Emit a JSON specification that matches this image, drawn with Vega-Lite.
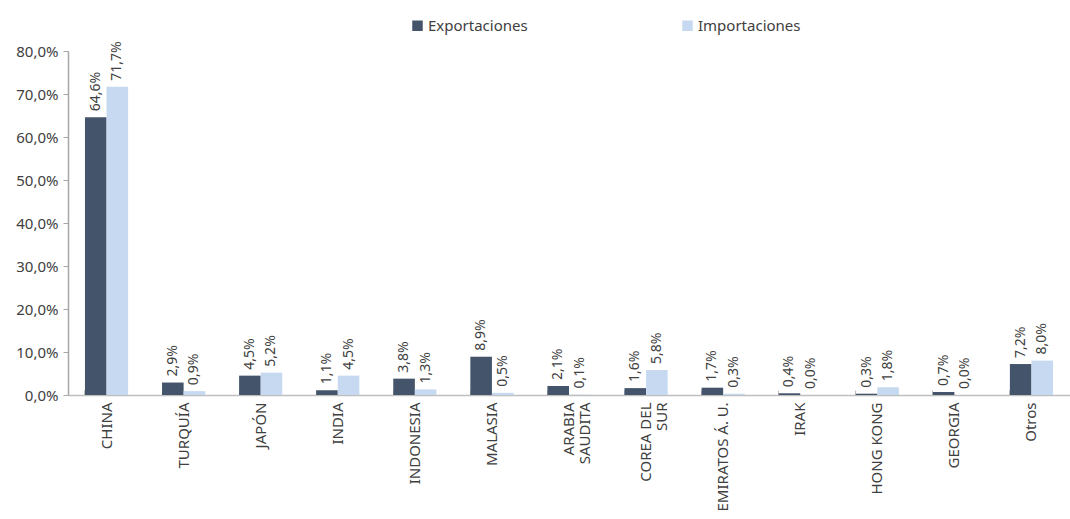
{
  "$schema": "https://vega.github.io/schema/vega-lite/v6.json",
  "width": 1002,
  "height": 344,
  "autosize": {"type": "none"},
  "padding": {"left": 68, "top": 51, "right": 0, "bottom": 124},
  "background": "white",
  "config": {
    "view": {"stroke": null},
    "font": "Noto Sans",
    "axis": {"labelFont": "Noto Sans", "labelColor": "#404040", "labelFontSize": 15}
  },
  "data": {
    "values": [
      {"pais": "CHINA", "serie": "Exportaciones", "valor": 0.646},
      {"pais": "CHINA", "serie": "Importaciones", "valor": 0.717},
      {"pais": "TURQUÍA", "serie": "Exportaciones", "valor": 0.029},
      {"pais": "TURQUÍA", "serie": "Importaciones", "valor": 0.009},
      {"pais": "JAPÓN", "serie": "Exportaciones", "valor": 0.045},
      {"pais": "JAPÓN", "serie": "Importaciones", "valor": 0.052},
      {"pais": "INDIA", "serie": "Exportaciones", "valor": 0.011},
      {"pais": "INDIA", "serie": "Importaciones", "valor": 0.045},
      {"pais": "INDONESIA", "serie": "Exportaciones", "valor": 0.038},
      {"pais": "INDONESIA", "serie": "Importaciones", "valor": 0.013},
      {"pais": "MALASIA", "serie": "Exportaciones", "valor": 0.089},
      {"pais": "MALASIA", "serie": "Importaciones", "valor": 0.005},
      {"pais": "ARABIA|SAUDITA", "serie": "Exportaciones", "valor": 0.021},
      {"pais": "ARABIA|SAUDITA", "serie": "Importaciones", "valor": 0.001},
      {"pais": "COREA DEL|SUR", "serie": "Exportaciones", "valor": 0.016},
      {"pais": "COREA DEL|SUR", "serie": "Importaciones", "valor": 0.058},
      {"pais": "EMIRATOS Á. U.", "serie": "Exportaciones", "valor": 0.017},
      {"pais": "EMIRATOS Á. U.", "serie": "Importaciones", "valor": 0.003},
      {"pais": "IRAK", "serie": "Exportaciones", "valor": 0.004},
      {"pais": "IRAK", "serie": "Importaciones", "valor": 0.0},
      {"pais": "HONG KONG", "serie": "Exportaciones", "valor": 0.003},
      {"pais": "HONG KONG", "serie": "Importaciones", "valor": 0.018},
      {"pais": "GEORGIA", "serie": "Exportaciones", "valor": 0.007},
      {"pais": "GEORGIA", "serie": "Importaciones", "valor": 0.0},
      {"pais": "Otros", "serie": "Exportaciones", "valor": 0.072},
      {"pais": "Otros", "serie": "Importaciones", "valor": 0.08}
    ]
  },
  "encoding": {
    "x": {
      "field": "pais",
      "type": "nominal",
      "sort": null,
      "scale": {"paddingInner": 0.44, "paddingOuter": 0.22},
      "axis": {
        "title": null,
        "labelAngle": -90,
        "labelAlign": "right",
        "labelBaseline": "middle",
        "labelPadding": 12,
        "labelExpr": "split(datum.label, '|')",
        "bandPosition": 0,
        "tickSize": -5,
        "tickColor": "#bfbfbf",
        "domainColor": "#bfbfbf",
        "domainWidth": 1.5,
        "labelLineHeight": 16
      }
    },
    "xOffset": {"field": "serie", "type": "nominal", "scale": {"paddingInner": 0}},
    "y": {
      "field": "valor",
      "type": "quantitative",
      "scale": {"domain": [0, 0.8], "nice": false},
      "axis": {
        "title": null,
        "values": [0, 0.1, 0.2, 0.3, 0.4, 0.5, 0.6, 0.7, 0.8],
        "labelExpr": "replace(format(datum.value, '.1%'), '.', ',')",
        "grid": false,
        "tickSize": 5,
        "tickColor": "#a6a6a6",
        "domainColor": "#a6a6a6",
        "domainWidth": 1.5,
        "labelPadding": 5
      }
    }
  },
  "layer": [
    {
      "mark": {"type": "bar"},
      "encoding": {
        "color": {
          "field": "serie",
          "type": "nominal",
          "scale": {"domain": ["Exportaciones", "Importaciones"], "range": ["#44546a", "#c6d9f0"]},
          "legend": {
            "title": null,
            "orient": "none",
            "direction": "horizontal",
            "legendX": 342,
            "legendY": -33,
            "symbolType": "square",
            "symbolSize": 110,
            "symbolStrokeWidth": 0,
            "labelFontSize": 15,
            "labelFont": "Noto Sans",
            "labelColor": "#404040",
            "labelOffset": 3,
            "columnPadding": 152
          }
        }
      }
    },
    {
      "transform": [
        {"calculate": "replace(format(datum.valor, '.1%'), '.', ',')", "as": "lbl"}
      ],
      "mark": {"type": "text", "angle": -90, "align": "left", "baseline": "middle", "dx": 6, "fontSize": 14, "color": "#404040", "font": "Noto Sans"},
      "encoding": {
        "text": {"field": "lbl", "type": "nominal"}
      }
    }
  ]
}
